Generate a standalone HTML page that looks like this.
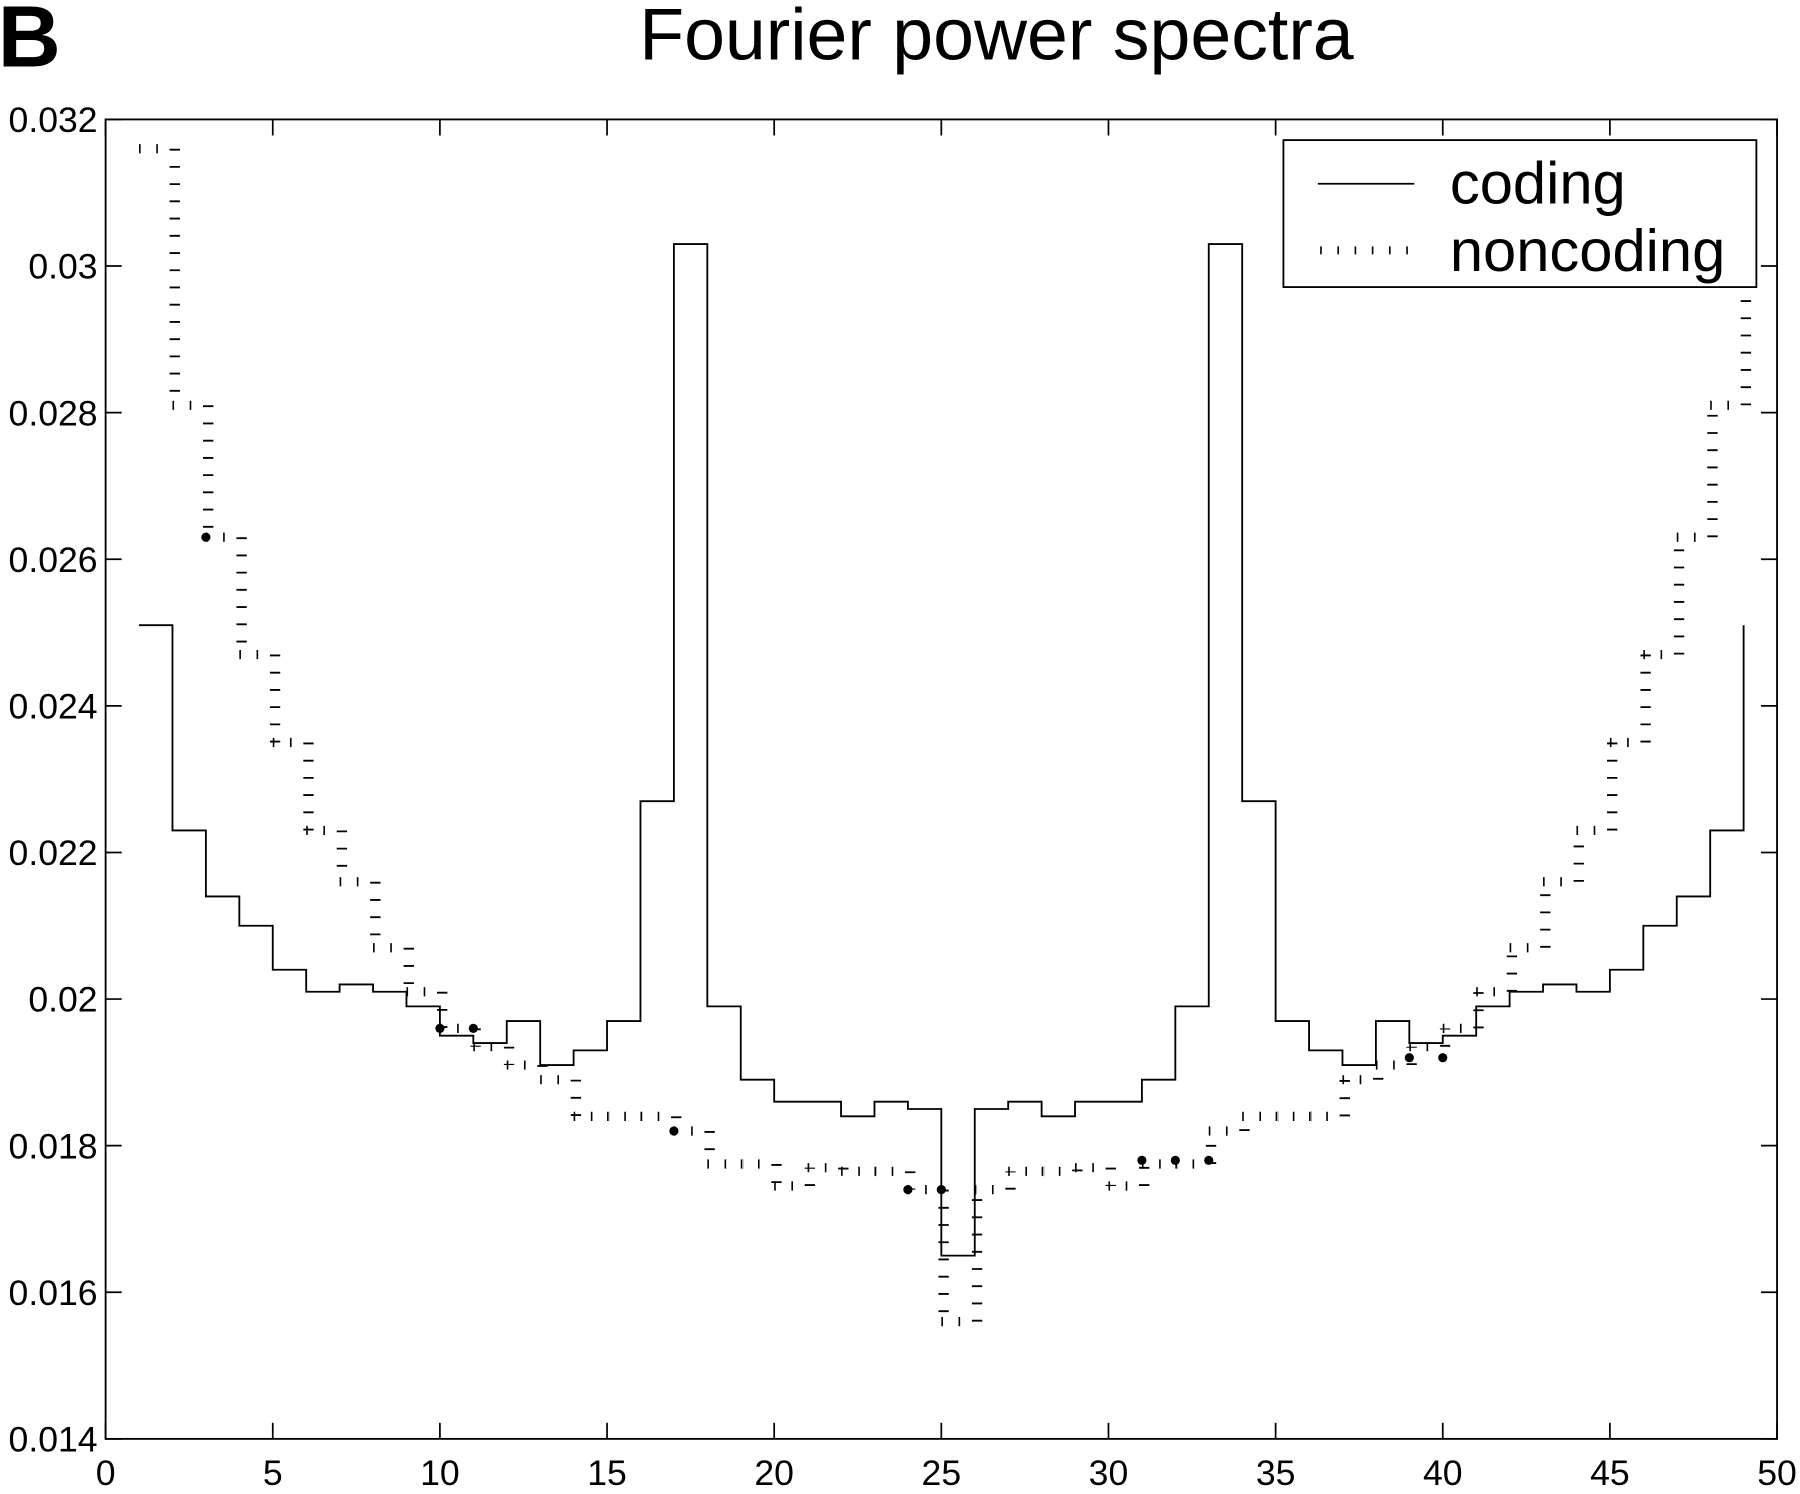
<!DOCTYPE html>
<html><head><meta charset="utf-8"><style>
html,body{margin:0;padding:0;background:#fff;}
svg{display:block;}
text{font-family:"Liberation Sans",sans-serif;fill:#000;}
</style></head><body>
<svg id="s" width="1800" height="1494" viewBox="0 0 1568 1301" preserveAspectRatio="none" xmlns="http://www.w3.org/2000/svg">
<rect width="1568" height="1301" fill="#fff"/>
<text x="-2" y="58" font-size="76" font-weight="bold">B</text>
<text x="868" y="52" font-size="64" text-anchor="middle">Fourier power spectra</text>
<g id="axes"></g>
<g id="data"></g>
<rect x="1118" y="122" width="412" height="128" fill="#fff" stroke="#000" stroke-width="1.6"/>
<line x1="1148" y1="160" x2="1232" y2="160" stroke="#000" stroke-width="1.6"/>
<line x1="1150" y1="218" x2="1232" y2="218" stroke="#000" stroke-width="7" stroke-dasharray="1.4 13.6"/>
<text x="1263" y="177" font-size="52">coding</text>
<text x="1263" y="236" font-size="52">noncoding</text>
</svg>
<script>
var L=92,R=1548,T=104,B=1253;
function X(v){return L+(R-L)*v/50;}
function Y(v){return B-(B-T)*(v-0.014)/0.018;}
var ns="http://www.w3.org/2000/svg";
function el(p,tag,a,txt){var e=document.createElementNS(ns,tag);for(var k in a)e.setAttribute(k,a[k]);if(txt!==undefined)e.textContent=txt;p.appendChild(e);return e;}
var ax=document.getElementById('axes');
el(ax,'rect',{x:L,y:T,width:R-L,height:B-T,fill:'none',stroke:'#000','stroke-width':1.6});
for(var i=0;i<=10;i++){var x=X(i*5);
 el(ax,'line',{x1:x,y1:B,x2:x,y2:B-14,stroke:'#000','stroke-width':1.5});
 el(ax,'line',{x1:x,y1:T,x2:x,y2:T+14,stroke:'#000','stroke-width':1.5});
 el(ax,'text',{x:x,y:1293,'font-size':31,'text-anchor':'middle'},String(i*5));}
var yl=['0.014','0.016','0.018','0.02','0.022','0.024','0.026','0.028','0.03','0.032'];
for(var j=0;j<10;j++){var v=0.014+j*0.002,y=Y(v);
 el(ax,'line',{x1:L,y1:y,x2:L+14,y2:y,stroke:'#000','stroke-width':1.5});
 el(ax,'line',{x1:R,y1:y,x2:R-14,y2:y,stroke:'#000','stroke-width':1.5});
 el(ax,'text',{x:85,y:y+11,'font-size':31,'text-anchor':'end'},yl[j]);}
var c=[0.0251,0.0223,0.0214,0.0210,0.0204,0.0201,0.0202,0.0201,0.0199,0.0195,0.0194,0.0197,0.0191,0.0193,0.0197,0.0227,0.0303,0.0199,0.0189,0.0186,0.0186,0.0184,0.0186,0.0185,0.0165];
var n=[0.0316,0.0281,0.0263,0.0247,0.0235,0.0223,0.0216,0.0207,0.0201,0.0196,0.01935,0.0191,0.0189,0.0184,0.0184,0.0184,0.0182,0.01775,0.01775,0.01745,0.0177,0.01765,0.01765,0.0174,0.0156];
function full(a){var r=a.slice();for(var k=26;k<=49;k++)r.push(a[50-k-1]);return r;}
var cf=full(c),nf=full(n);
var d=document.getElementById('data');
var p='M'+X(1)+' '+Y(cf[0]);
for(var k=1;k<=49;k++){var v=cf[k-1];if(k>1)p+=' V'+Y(v);if(k<49)p+=' H'+X(k+1);}
el(d,'path',{d:p,fill:'none',stroke:'#000','stroke-width':1.6});
for(var k=1;k<=49;k++){var v=nf[k-1];
 if(k<49)el(d,'line',{x1:X(k),y1:Y(v),x2:X(k+1),y2:Y(v),stroke:'#000','stroke-width':8,'stroke-dasharray':'1.4 13.6'});
 if(k>1){var pv=nf[k-2];el(d,'line',{x1:X(k)+2,y1:Y(pv),x2:X(k)+2,y2:Y(v),stroke:'#000','stroke-width':9,'stroke-dasharray':'1.6 13.4'});}
}
var dots=[[3,0.0263],[10,0.0196],[11,0.0196],[17,0.0182],[24,0.0174],[25,0.0174],[31,0.0178],[32,0.0178],[33,0.0178],[39,0.0192],[40,0.0192]];
dots.forEach(function(q){el(d,'circle',{cx:X(q[0]),cy:Y(q[1]),r:4,fill:'#000'});});
</script>
</body></html>
